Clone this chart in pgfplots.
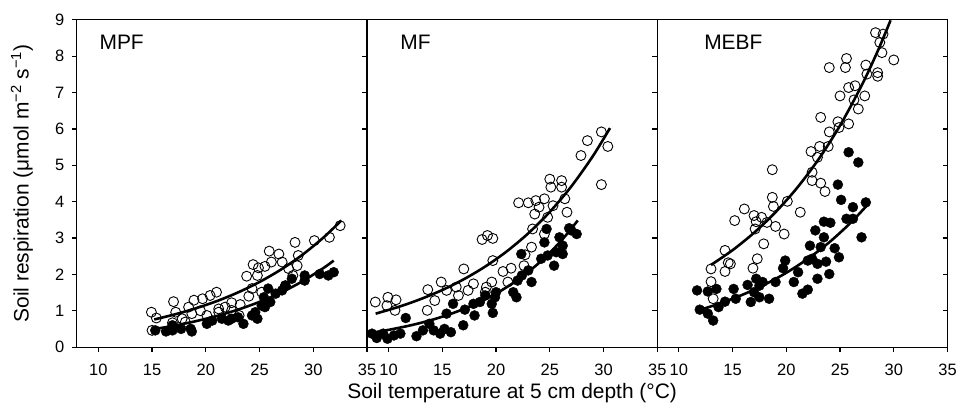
\documentclass[border=0pt]{standalone}
\usepackage{pgfplots}
\pgfplotsset{compat=1.18}
\usepackage{fontspec}
\setmainfont{Liberation Sans}

\pgfplotsset{
  panel/.style={
    width=291pt, height=328pt, scale only axis,
    xmin=8, xmax=35, ymin=0, ymax=9,
    xtick={10,15,20,25,30,35}, ytick={0,1,2,3,4,5,6,7,8,9},
    tick align=outside, xtick pos=bottom, ytick pos=left,
    major tick length=5pt,
    axis line style={line width=1.1pt},
    every tick/.style={line width=1.1pt, black},
    tick label style={font=\fontsize{16.5}{18}\selectfont},
    xticklabel style={yshift=-8.5pt},
    yticklabel style={xshift=-4pt},
    /pgf/number format/assume math mode=true,
  },
  opn/.style={only marks, mark=o, mark size=5pt, mark options={line width=0.9pt, draw=black}},
  fil/.style={only marks, mark=*, mark size=5pt, mark options={draw=black, fill=black}},
  fit/.style={no marks, line width=2.6pt, black, smooth},
}
\tikzset{plab/.style={anchor=west, inner sep=0pt, font=\fontsize{21}{23}\selectfont}}

\begin{document}
\begin{tikzpicture}
% ---------------- MPF ----------------
\begin{axis}[panel, name=p1,
  ylabel={Soil respiration (μmol m\textsuperscript{−2} s\textsuperscript{−1})},
  ylabel style={at={(axis description cs:-0.189,0.5)}, anchor=center, font=\fontsize{21}{23}\selectfont},
]
\addplot[opn] coordinates {
(14.94,0.96) (15.0,0.46) (15.4,0.80) (17.0,1.25) (17.2,0.96) (16.9,0.67) (18.4,1.10) (18.9,1.29)
(19.7,1.33) (20.4,1.42) (21.0,1.51) (19.5,1.0) (20.1,0.87) (21.2,0.96) (21.8,1.10) (22.4,1.22)
(23.2,1.17) (24.0,1.40) (23.8,1.95) (24.4,2.27) (24.9,2.18) (25.5,2.22) (25.9,2.64) (26.8,2.56)
(27.1,2.34) (27.7,2.16) (28.3,2.88) (28.6,2.52) (28.5,2.24) (30.1,2.93) (31.5,3.02) (32.5,3.34)
(24.3,1.61) (24.8,1.97) (25.2,1.51) (22.4,1.01) (18.1,0.69) (26.1,2.34) (27.4,1.69) (28.1,1.97)
(18.7,0.92) (17.8,0.78) (23.1,0.87) (21.2,1.05)
};
\addplot[fil] coordinates {
(15.3,0.46) (16.3,0.43) (16.9,0.46) (17.7,0.50) (18.7,0.43) (18.6,0.50) (20.1,0.64) (21.5,0.78)
(22.1,0.73) (22.4,0.78) (23.5,0.64) (24.8,0.78) (24.6,0.96) (25.2,1.14) (25.4,1.37) (26.0,1.24)
(25.8,1.61) (26.5,1.47) (27.4,1.69) (28.0,1.88) (29.2,1.83) (29.2,1.97) (30.6,2.01) (31.4,1.97)
(31.9,2.06) (20.6,0.73) (24.3,0.87) (25.5,1.10) (27.1,1.56) (16.9,0.60) (23.0,0.82)
};
\addplot[fit] coordinates {
(15.2,0.760) (17,0.890) (19,1.060) (21,1.262) (23,1.504) (25,1.792) (27,2.134) (29,2.542) (31,3.028) (32.6,3.483)
};
\addplot[fit] coordinates {
(15.3,0.500) (17,0.586) (19,0.708) (21,0.854) (23,1.031) (25,1.244) (27,1.501) (29,1.811) (31,2.186) (31.9,2.379)
};
\node[plab] at (axis cs:10.1,8.38) {MPF};
\end{axis}
% ---------------- MF ----------------
\begin{axis}[panel, name=p2, at={(p1.south east)}, anchor=south west,
  yticklabels={},
  xlabel={Soil temperature at 5 cm depth (°C)},
  xlabel style={at={(axis description cs:0.5,-0.142)}, anchor=center, font=\fontsize{21}{23}\selectfont},
]
\addplot[opn] coordinates {
(8.77,1.24) (9.94,1.37) (9.85,1.14) (10.7,1.30) (10.6,1.01) (13.6,1.01) (13.65,1.58) (14.3,1.28)
(14.9,1.79) (15.4,1.56) (16.3,1.65) (16.5,1.42) (17.0,2.15) (17.4,1.56) (17.9,1.74) (18.7,2.96)
(19.2,3.07) (19.7,2.99) (19.7,2.38) (19.1,1.65) (19.6,1.79) (19.0,1.51) (20.65,2.08) (21.4,2.17)
(21.1,1.79) (22.1,3.97) (23.0,3.97) (23.7,4.03) (24.0,3.85) (23.6,3.66) (23.4,3.25) (23.3,2.75)
(22.7,2.54) (22.6,2.24) (24.5,4.08) (25.0,4.62) (25.1,4.40) (25.3,3.89) (24.8,3.57) (24.5,3.11)
(26.1,4.58) (26.1,4.40) (26.4,4.08) (26.6,3.71) (27.9,5.27) (28.5,5.68) (29.8,5.92) (30.4,5.52)
(29.8,4.47)
};
\addplot[fil] coordinates {
(8.46,0.37) (8.9,0.25) (9.5,0.37) (9.9,0.23) (10.5,0.32) (11.1,0.37) (11.6,0.80) (12.6,0.30)
(13.2,0.46) (13.8,0.64) (14.2,0.46) (14.8,0.37) (15.2,0.50) (15.8,0.41) (15.4,0.92) (16.0,1.19)
(16.95,0.60) (17.1,1.03) (17.9,1.19) (18.0,0.87) (18.5,1.24) (19.0,1.42) (19.6,1.19) (19.7,0.94)
(20.0,1.51) (19.9,1.37) (21.6,1.51) (21.9,1.37) (22.0,1.83) (22.4,1.97) (22.35,2.56) (23.0,2.11)
(23.3,1.79) (24.2,2.43) (24.5,2.88) (24.8,2.52) (24.7,3.25) (25.4,2.24) (25.6,2.61) (25.9,3.02)
(26.2,2.79) (26.2,2.56) (26.8,3.27) (27.5,3.11) (27.0,3.21)
};
\addplot[fit] coordinates {
(8.8,0.920) (11,1.112) (13,1.322) (15,1.570) (17,1.866) (19,2.217) (21,2.634) (23,3.130) (25,3.719) (27,4.419) (29,5.250) (30.6,6.025)
};
\addplot[fit] coordinates {
(8.5,0.400) (10,0.474) (12,0.595) (14,0.746) (16,0.936) (18,1.174) (20,1.472) (22,1.846) (24,2.316) (26,2.905) (27.6,3.483)
};
\node[plab] at (axis cs:11.09,8.38) {MF};
\end{axis}
% ---------------- MEBF ----------------
\begin{axis}[panel, name=p3, at={(p2.south east)}, anchor=south west,
  yticklabels={},
]
\addplot[opn] coordinates {
(28.3,8.65) (29.0,8.61) (28.7,8.38) (28.9,8.10) (30.0,7.90) (24.0,7.69) (25.6,7.94) (25.5,7.69)
(27.4,7.76) (27.5,7.51) (28.5,7.55) (28.5,7.45) (25.8,7.14) (26.4,7.19) (25.0,6.91) (26.3,6.80)
(27.3,6.91) (26.7,6.55) (23.2,6.32) (24.8,6.20) (24.9,6.04) (25.8,6.14) (24.0,5.92) (23.9,5.52)
(23.1,5.52) (22.3,5.38) (22.9,5.22) (22.4,4.81) (22.4,4.58) (23.2,4.51) (23.6,4.28) (18.7,4.88)
(18.7,4.12) (18.8,3.87) (20.1,4.01) (21.3,3.71) (16.1,3.80) (15.2,3.48) (17.0,3.62) (17.7,3.57)
(17.1,3.25) (17.2,3.45) (18.2,3.43) (19.0,3.32) (19.8,3.11) (17.9,2.84) (14.3,2.66) (14.6,2.32)
(14.8,2.29) (17.3,2.43) (16.9,2.17) (13.0,2.15) (14.3,2.08) (13.0,1.80) (13.2,1.33)
};
\addplot[fil] coordinates {
(11.7,1.56) (12.7,1.53) (13.5,1.60) (11.95,1.03) (12.7,0.92) (13.2,0.73) (13.7,1.10) (14.3,1.25)
(15.1,1.60) (15.3,1.33) (16.4,1.71) (16.7,1.24) (17.0,1.51) (17.2,1.88) (17.5,1.69) (17.8,1.79)
(17.5,1.37) (18.4,1.33) (19.0,1.79) (19.7,2.17) (19.9,2.38) (20.7,1.79) (21.1,2.06) (21.5,1.47)
(22.0,1.58) (22.2,2.79) (22.7,3.21) (22.4,2.43) (22.9,2.29) (23.2,2.75) (22.9,1.88) (23.5,3.02)
(23.5,3.45) (24.1,3.42) (23.7,2.35) (24.0,2.01) (24.5,2.72) (24.9,2.47) (24.8,4.47) (25.1,4.05)
(25.6,3.53) (26.2,3.85) (26.2,3.53) (25.8,5.36) (26.7,5.08) (27.4,3.98) (27.0,3.02) (22.0,2.38)
};
\addplot[fit] coordinates {
(13,2.26) (15,2.666) (17,3.145) (19,3.711) (21,4.379) (23,5.166) (25,6.095) (27,7.191) (28.5,8.14) (29.7,8.99)
};
\addplot[fit] coordinates {
(12.26,1.05) (14,1.220) (16,1.449) (18,1.721) (20,2.044) (22,2.428) (24,2.883) (26,3.424) (27.5,3.896)
};
\node[plab] at (axis cs:12.35,8.38) {MEBF};
\end{axis}
% right-hand inward ticks of the last panel
\begin{axis}[at={(p3.south west)}, anchor=south west,
  width=291pt, height=328pt, scale only axis,
  xmin=8, xmax=35, ymin=0, ymax=9,
  xtick=\empty, ytick={0,1,2,3,4,5,6,7,8,9}, yticklabels={},
  ytick pos=right, tick align=inside, major tick length=5pt,
  every tick/.style={line width=1.1pt, black},
  axis line style={draw=none},
]
\end{axis}
\path ([shift={(-77pt,-63pt)}]p1.south west) rectangle ([shift={(9pt,20pt)}]p3.north east);
\end{tikzpicture}
\end{document}
